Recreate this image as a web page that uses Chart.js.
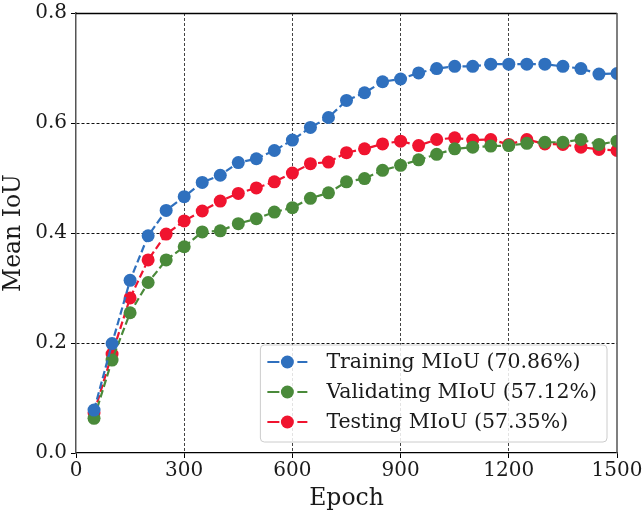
<!DOCTYPE html>
<html><head><meta charset="utf-8">
<script src="https://cdn.jsdelivr.net/npm/chart.js@4.4.0/dist/chart.umd.min.js"></script>
<style>html,body{margin:0;padding:0;background:#fff}#wrap{width:644px;height:515px;position:relative}</style>
</head><body><div id="wrap"><canvas id="c"></canvas></div>
<script>
const epochs = [50,100,150,200,250,300,350,400,450,500,550,600,650,700,750,800,850,900,950,1000,1050,1100,1150,1200,1250,1300,1350,1400,1450,1500];
const training = [0.078,0.199,0.314,0.395,0.441,0.466,0.492,0.505,0.528,0.535,0.550,0.569,0.592,0.610,0.641,0.655,0.675,0.680,0.691,0.699,0.703,0.703,0.707,0.707,0.707,0.707,0.703,0.699,0.689,0.690];
const validating = [0.063,0.169,0.255,0.310,0.351,0.375,0.402,0.404,0.417,0.426,0.438,0.446,0.463,0.473,0.493,0.499,0.514,0.523,0.533,0.543,0.553,0.556,0.558,0.559,0.563,0.565,0.565,0.570,0.561,0.567];
const testing = [0.073,0.180,0.282,0.351,0.398,0.422,0.440,0.458,0.472,0.482,0.493,0.509,0.526,0.529,0.546,0.553,0.562,0.567,0.559,0.570,0.573,0.569,0.570,0.561,0.570,0.562,0.561,0.556,0.552,0.550];
const labels = ['Training MIoU (70.86%)','Validating MIoU (57.12%)','Testing MIoU (57.35%)'];
const colors = ['#2f70be','#4a8a3a','#f0142f'];
const xTicks = [0,300,600,900,1200,1500];
const yTicks = [0.0,0.2,0.4,0.6,0.8];

const serif = "'DejaVu Serif', serif";
function ds(vals, i){
  return {label: labels[i], data: epochs.map((e,k)=>({x:e,y:vals[k]})), borderColor: colors[i], backgroundColor: colors[i],
    borderWidth: 2.2, borderDash: [7.5,3.5], pointRadius: 6.5, pointHoverRadius: 6.5, pointBorderWidth: 0, tension: 0, fill:false};
}

const framePlugin = {
  id:'frame',
  afterDraw(chart){
    const {ctx, chartArea:a} = chart;
    ctx.save();
    ctx.lineWidth = 1.3; ctx.strokeStyle = '#000';
    ctx.beginPath(); ctx.moveTo(a.left, a.top+0.5); ctx.lineTo(a.right, a.top+0.5); ctx.stroke();
    ctx.strokeStyle = '#555'; ctx.lineWidth = 1.5;
    ctx.beginPath(); ctx.moveTo(a.right, a.top); ctx.lineTo(a.right, a.bottom); ctx.stroke();
    ctx.restore();
  }
};

const legendPlugin = {
  id:'inlegend',
  afterDatasetsDraw(chart){
    const {ctx, chartArea:a} = chart;
    ctx.save();
    ctx.font = "20.5px " + serif;
    let maxW = 0;
    labels.forEach(l=>{maxW = Math.max(maxW, ctx.measureText(l).width);});
    const rowH = 30;
    const w = 66 + maxW + 10;
    const h = 97;
    const right = a.right - 10, bottom = a.bottom - 11;
    const left = right - w, top = bottom - h;
    ctx.fillStyle = 'rgba(255,255,255,0.85)';
    ctx.strokeStyle = '#cccccc'; ctx.lineWidth = 1;
    ctx.beginPath(); ctx.roundRect(left, top, w, h, 4); ctx.fill(); ctx.stroke();
    labels.forEach((l,i)=>{
      const cy = top + 17 + i*rowH;
      const x0 = left + 7, x1 = left + 47;
      ctx.strokeStyle = colors[i]; ctx.lineWidth = 2.2;
      ctx.beginPath(); ctx.moveTo(x0, cy); ctx.lineTo(x0 + 12, cy); ctx.moveTo(x1 - 10, cy); ctx.lineTo(x1, cy); ctx.stroke();
      ctx.fillStyle = colors[i];
      ctx.beginPath(); ctx.arc((x0+x1)/2, cy, 6.5, 0, Math.PI*2); ctx.fill();
      ctx.fillStyle = '#1a1a1a'; ctx.textBaseline = 'middle'; ctx.textAlign = 'left';
      ctx.fillText(l, left + 66, cy + 1);
    });
    ctx.restore();
  }
};

new Chart(document.getElementById('c'), {
  type:'line',
  data:{datasets:[ds(training,0), ds(validating,1), ds(testing,2)]},
  options:{
    responsive:true, maintainAspectRatio:false, animation:false,
    devicePixelRatio: 1,
    layout:{padding:{top:13, right:27, left:0, bottom:0}},
    plugins:{legend:{display:false}, tooltip:{enabled:false}},
    scales:{
      x:{type:'linear', min:0, max:1500,
        afterBuildTicks(s){ s.ticks = xTicks.map(v=>({value:v})); },
        afterFit(s){ s.height = 62; s.paddingLeft = 0; s.paddingRight = 0; },
        ticks:{font:{family:serif,size:20}, color:'#1a1a1a', padding:1, maxRotation:0,
          callback:(v)=>String(v)},
        grid:{color:(c)=> (c.tick && (c.tick.value===0||c.tick.value===1500)) ? 'rgba(0,0,0,0)' : '#444',
          tickColor:'#000', tickLength:5, lineWidth:1, drawTicks:true},
        border:{display:true, color:'#000', width:1.3, dash:[3,2]},
        title:{display:true, text:'Epoch', font:{family:serif,size:23.5}, color:'#1a1a1a', padding:{top:0,bottom:2}}
      },
      y:{min:0, max:0.8,
        afterBuildTicks(s){ s.ticks = yTicks.map(v=>({value:v})); },
        afterFit(s){ s.width = 76; s.paddingTop = 0; s.paddingBottom = 0; },
        ticks:{font:{family:serif,size:20}, color:'#1a1a1a', padding:4, callback:(v)=>Number(v).toFixed(1)},
        grid:{color:(c)=> (c.tick && (c.tick.value===0||Math.abs(c.tick.value-0.8)<1e-9)) ? 'rgba(0,0,0,0)' : '#111',
          tickColor:'#000', tickLength:5, lineWidth:1},
        border:{display:true, color:'#555', width:1.5, dash:[3,2]},
        title:{display:true, text:'Mean IoU', font:{family:serif,size:23.5}, color:'#1a1a1a', padding:{top:0,bottom:2}}
      }
    }
  },
  plugins:[framePlugin, legendPlugin]
});
</script>
</body></html>
